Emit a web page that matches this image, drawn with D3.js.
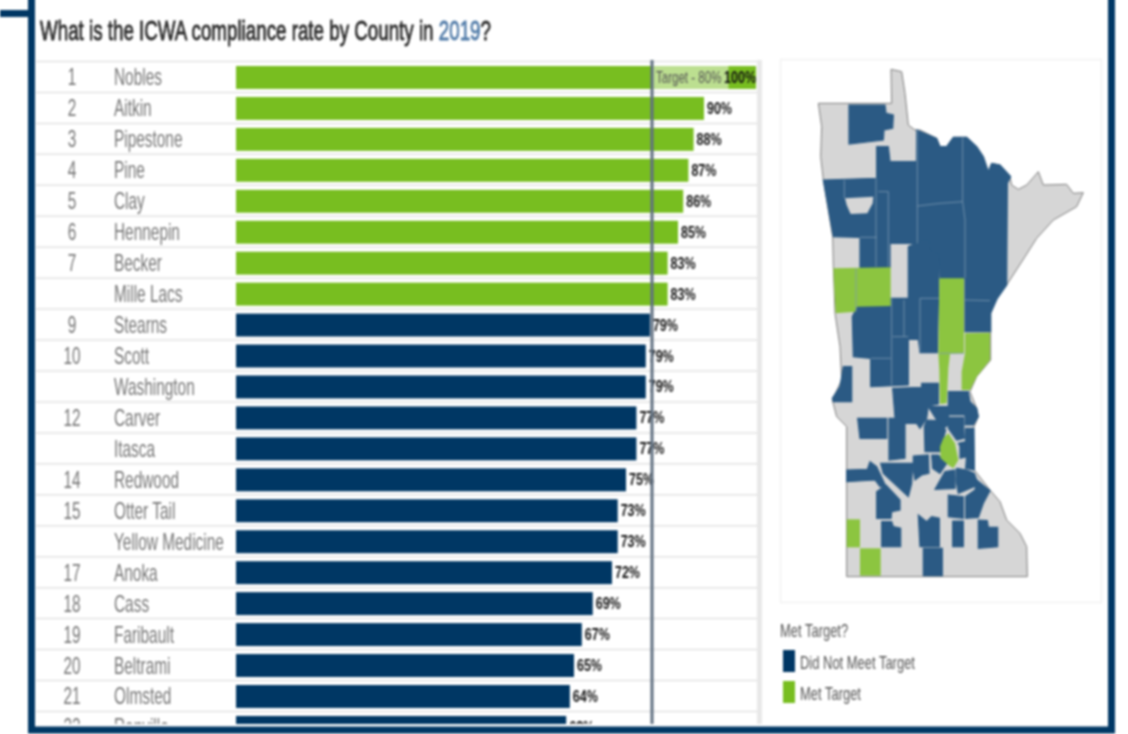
<!DOCTYPE html>
<html>
<head>
<meta charset="utf-8">
<script src="https://cdnjs.cloudflare.com/ajax/libs/d3/7.8.5/d3.min.js"></script>
<style>
  html, body { margin: 0; padding: 0; background: #fff; }
  svg { display: block; }
  text { font-family: "Liberation Sans", sans-serif; }
</style>
</head>
<body>
<script>
// chart data
var ranks = ["1","2","3","4","5","6","7","","9","10","","12","","14","15","","17","18","19","20","21","22"];
var counties = ["Nobles","Aitkin","Pipestone","Pine","Clay","Hennepin","Becker","Mille Lacs","Stearns","Scott","Washington","Carver","Itasca","Redwood","Otter Tail","Yellow Medicine","Anoka","Cass","Faribault","Beltrami","Olmsted","Renville"];
var rates = [100,90,88,87,86,85,83,83,79.6,78.8,78.8,77,77,75,73.4,73.4,72.3,68.6,66.5,65,64.2,63.5];
var rateLabels = ["100%","90%","88%","87%","86%","85%","83%","83%","79%","79%","79%","77%","77%","75%","73%","73%","72%","69%","67%","65%","64%","63%"];
var target = 80;
var legendLabels = ["Did Not Meet Target","Met Target"];

// map shapes (map units)
var stateOutline = [[115,160],[335,160],[333,58],[365,65],[375,130],[385,225],[405,240],[420,240],[470,265],[480,290],[500,290],[520,262],[560,262],[590,290],[610,320],[625,365],[635,340],[660,345],[690,380],[695,405],[715,418],[740,405],[775,365],[790,405],[860,403],[880,430],[910,428],[890,470],[820,510],[770,565],[735,620],[680,705],[650,745],[632,790],[632,930],[590,980],[570,1025],[590,1075],[595,1100],[580,1135],[583,1260],[630,1320],[660,1355],[680,1410],[720,1450],[740,1490],[742,1580],[200,1580],[200,1130],[170,1100],[157,1050],[185,990],[180,890],[165,790],[160,650],[158,560],[130,390],[122,320],[125,230]];
var grayHoles = [[[195,445],[280,440],[278,460],[262,490],[212,492],[200,465]]];
var blueShapes = [
  [[207,165],[315,165],[318,190],[340,195],[338,235],[312,240],[310,270],[207,282]],
  [[130,390],[290,385],[290,290],[325,290],[330,335],[408,335],[408,580],[330,580],[330,652],[240,652],[240,562],[160,560]],
  [[410,240],[470,265],[480,290],[500,290],[520,262],[560,262],[590,290],[610,320],[625,365],[635,340],[660,345],[692,380],[682,400],[680,705],[652,745],[632,790],[632,845],[555,845],[555,685],[480,685],[478,615],[450,600],[445,570],[430,570],[408,580]],
  [[385,590],[430,570],[445,570],[450,600],[478,615],[472,908],[420,908],[415,868],[385,868],[385,1005],[272,1010],[272,925],[220,920],[217,800],[232,770],[332,770],[332,745],[385,745]],
  [[190,950],[215,950],[215,1055],[160,1055],[157,1045],[180,1010]],
  [[338,1015],[425,1012],[425,1000],[475,1000],[475,1062],[445,1068],[440,1105],[420,1135],[410,1120],[375,1120],[345,1102]],
  [[445,1070],[505,1070],[505,1125],[490,1135],[470,1110]],
  [[440,1110],[470,1112],[497,1140],[480,1205],[435,1205],[433,1130]],
  [[505,1025],[565,1025],[570,1055],[590,1075],[595,1100],[580,1125],[555,1125],[555,1095],[505,1095]],
  [[505,1102],[550,1102],[553,1165],[530,1170],[505,1135]],
  [[557,1135],[582,1135],[583,1260],[557,1255],[560,1215],[535,1180],[557,1175]],
  [[540,1180],[558,1182],[560,1220],[540,1225]],
  [[400,1218],[445,1215],[447,1270],[425,1275],[405,1290],[400,1260]],
  [[455,1215],[475,1215],[500,1240],[480,1270],[458,1255]],
  [[495,1265],[525,1260],[525,1315],[465,1318]],
  [[530,1255],[560,1260],[583,1270],[595,1305],[535,1330],[528,1290]],
  [[590,1290],[630,1322],[610,1360],[595,1402],[557,1405],[557,1340],[585,1320]],
  [[505,1335],[550,1340],[550,1405],[505,1400]],
  [[233,1105],[320,1105],[320,1165],[240,1165]],
  [[327,1105],[375,1105],[375,1225],[327,1230]],
  [[302,1240],[398,1240],[395,1300],[385,1340],[310,1270]],
  [[200,1260],[262,1258],[270,1235],[290,1250],[318,1310],[300,1310],[285,1290],[200,1295]],
  [[290,1325],[318,1305],[360,1350],[360,1380],[335,1385],[333,1405],[290,1405]],
  [[305,1415],[335,1415],[340,1430],[362,1435],[362,1490],[305,1490]],
  [[415,1395],[440,1415],[455,1400],[478,1405],[478,1490],[420,1490]],
  [[430,1495],[487,1495],[487,1577],[430,1577]],
  [[518,1413],[550,1413],[550,1490],[518,1490]],
  [[595,1410],[622,1412],[625,1432],[653,1432],[653,1490],[595,1495]]
];
var greenShapes = [
  [[160,655],[332,652],[332,768],[230,770],[226,785],[167,790],[163,720]],
  [[478,685],[552,685],[552,910],[510,912],[505,955],[500,1060],[480,1062],[478,960],[475,910]],
  [[555,850],[630,848],[630,930],[590,980],[570,1020],[545,1020],[545,965],[555,910]],
  [[505,1150],[525,1180],[535,1230],[520,1255],[505,1245],[482,1225],[480,1190],[490,1165]],
  [[200,1408],[240,1408],[240,1492],[200,1492]],
  [[240,1495],[302,1495],[302,1577],[240,1577]]
];
var countyLines = [
  [[193,390],[193,445]],[[288,385],[288,650]],[[325,425],[325,650]],[[295,425],[325,425]],[[240,562],[290,562]],
  [[412,240],[412,580]],[[412,468],[480,460],[548,455]],[[548,262],[548,455],[555,510],[555,685]],
  [[555,750],[630,752]],[[228,655],[228,785]],[[335,745],[335,1005]],[[372,750],[372,860]],[[420,745],[420,905]],
  [[420,745],[478,745]],[[272,925],[332,925]],[[338,860],[385,860]],[[478,910],[552,910]]
];

var width = 1128, height = 734;
var svg = d3.select("body").append("svg")
    .attr("width", width)
    .attr("height", height);

var navy = "#003764", green = "#78be20", blue = "#2b5a84";

// set up the scales
var x = d3.scaleLinear().domain([0, 100]).range([236, 756]);
var y = d3.scaleBand().domain(d3.range(counties.length)).range([61.5, 61.5 + 30.95 * counties.length]).padding(0);
var mapX = d3.scaleLinear().domain([0, 1011]).range([780, 1117]);
var mapY = d3.scaleLinear().domain([0, 840]).range([50, 330]);
var mapLine = d3.line().x(function(d) { return mapX(d[0]); }).y(function(d) { return mapY(d[1]); });
var mapArea = function(d) { return mapLine(d) + "Z"; };

// the dashboard font is condensed, squeeze the text horizontally
function squeeze(px, py, k) {
  return "translate(" + px + "," + py + ") scale(" + k + ",1)";
}

var blurred = svg.append("g").style("filter", "blur(0.9px)");

blurred.append("text")
    .attr("transform", squeeze(40, 40, 0.695))
    .attr("font-size", 27).attr("fill", "#2a2a2a")
    .attr("stroke", "#2a2a2a").attr("stroke-width", 0.8)
    .call(function(t) {
      t.append("tspan").text("What is the ICWA compliance rate by County in ");
      t.append("tspan").attr("fill", "#4e79a7").attr("stroke", "#4e79a7").text("2019");
      t.append("tspan").text("?");
    });

// table, clipped where the dashboard cuts it off
svg.append("clipPath").attr("id", "tableClip")
  .append("rect").attr("x", 36).attr("y", 58).attr("width", 730).attr("height", 666);

var table = blurred.append("g").attr("clip-path", "url(#tableClip)");

table.append("rect")
    .attr("x", 757).attr("y", 60).attr("width", 5).attr("height", 670)
    .attr("fill", "#e8e8e8");

table.selectAll(".sep")
    .data(counties)
  .enter().append("line")
    .attr("class", "sep")
    .attr("x1", 36).attr("x2", 757)
    .attr("y1", function(d, i) { return y(i); })
    .attr("y2", function(d, i) { return y(i); })
    .attr("stroke", "#e2e2e2").attr("stroke-width", 1.5);

table.selectAll(".bar")
    .data(counties)
  .enter().append("rect")
    .attr("class", "bar")
    .attr("x", x(0))
    .attr("y", function(d, i) { return y(i) + 4.5; })
    .attr("width", function(d, i) { return x(rates[i]) - x(0); })
    .attr("height", y.bandwidth() - 8)
    .attr("fill", function(d, i) { return rates[i] >= target ? green : navy; });

table.selectAll(".rank")
    .data(ranks)
  .enter().append("text")
    .attr("class", "rank")
    .attr("transform", function(d, i) { return squeeze(72, y(i) + y.bandwidth() / 2 + 8.5, 0.67); })
    .attr("text-anchor", "middle")
    .attr("font-size", 23).attr("fill", "#777")
    .text(function(d) { return d; });

table.selectAll(".county")
    .data(counties)
  .enter().append("text")
    .attr("class", "county")
    .attr("transform", function(d, i) { return squeeze(114, y(i) + y.bandwidth() / 2 + 8.5, 0.67); })
    .attr("font-size", 23).attr("fill", "#777")
    .text(function(d) { return d; });

// the target band sits over the first bar
table.append("rect")
    .attr("x", x(target)).attr("y", y(0) + 4.5)
    .attr("width", x(94.7) - x(target)).attr("height", y.bandwidth() - 8)
    .attr("fill", "#fff").attr("opacity", 0.5);

table.append("text")
    .attr("transform", squeeze(x(target) + 4, y(0) + y.bandwidth() / 2 + 6, 0.68))
    .attr("font-size", 17).attr("fill", "#555")
    .text("Target - " + target + "%");

table.selectAll(".rate")
    .data(rateLabels)
  .enter().append("text")
    .attr("class", "rate")
    .attr("transform", function(d, i) {
      return squeeze(i == 0 ? x(100) : x(rates[i]) + 3, y(i) + y.bandwidth() / 2 + 6, 0.78);
    })
    .attr("text-anchor", function(d, i) { return i == 0 ? "end" : "start"; })
    .attr("font-size", 16).attr("font-weight", "bold").attr("fill", "#111")
    .text(function(d) { return d; });

table.append("line")
    .attr("x1", x(target)).attr("x2", x(target))
    .attr("y1", 60).attr("y2", 724)
    .attr("stroke", "#5f6f80").attr("stroke-width", 3);

// map panel
blurred.append("rect")
    .attr("x", 780.5).attr("y", 59.5).attr("width", 321).attr("height", 543)
    .attr("fill", "#fff").attr("stroke", "#f1f1f1").attr("stroke-width", 1.5);

var map = blurred.append("g");
map.append("path")
    .attr("d", mapArea(stateOutline))
    .attr("fill", "#d6d6d6").attr("stroke", "#7f7f7f").attr("stroke-width", 1);
map.selectAll(".blue")
    .data(blueShapes)
  .enter().append("path")
    .attr("class", "blue").attr("d", mapArea)
    .attr("fill", blue).attr("stroke", blue).attr("stroke-width", 1.2);
map.selectAll(".hole")
    .data(grayHoles)
  .enter().append("path")
    .attr("class", "hole").attr("d", mapArea).attr("fill", "#d6d6d6");
map.selectAll(".green")
    .data(greenShapes)
  .enter().append("path")
    .attr("class", "green").attr("d", mapArea).attr("fill", "#8cc540");
map.selectAll(".cline")
    .data(countyLines)
  .enter().append("path")
    .attr("class", "cline").attr("d", mapLine)
    .attr("fill", "none").attr("stroke", "#7d9ab3").attr("stroke-width", 0.8);

// legend
blurred.append("text")
    .attr("transform", squeeze(780, 637, 0.72))
    .attr("font-size", 18).attr("fill", "#555")
    .text("Met Target?");

var legendY = d3.scaleBand().domain(legendLabels).range([646, 708]);
var legend = blurred.selectAll(".legend")
    .data(legendLabels)
  .enter().append("g")
    .attr("class", "legend")
    .attr("transform", function(d) { return "translate(783," + legendY(d) + ")"; });
legend.append("rect")
    .attr("y", 4).attr("width", 12).attr("height", 22)
    .attr("fill", function(d, i) { return i == 0 ? navy : green; });
legend.append("text")
    .attr("transform", squeeze(17, 23, 0.72))
    .attr("font-size", 18).attr("fill", "#555")
    .text(function(d) { return d; });

// dashboard frame
var frame = blurred.append("g").attr("fill", "none").attr("stroke", navy).attr("stroke-width", 7);
frame.append("path").attr("d", "M31.5,-5V730H1111.5V-5");
frame.append("path").attr("d", "M0,13.5H31.5");
</script>
</body>
</html>
